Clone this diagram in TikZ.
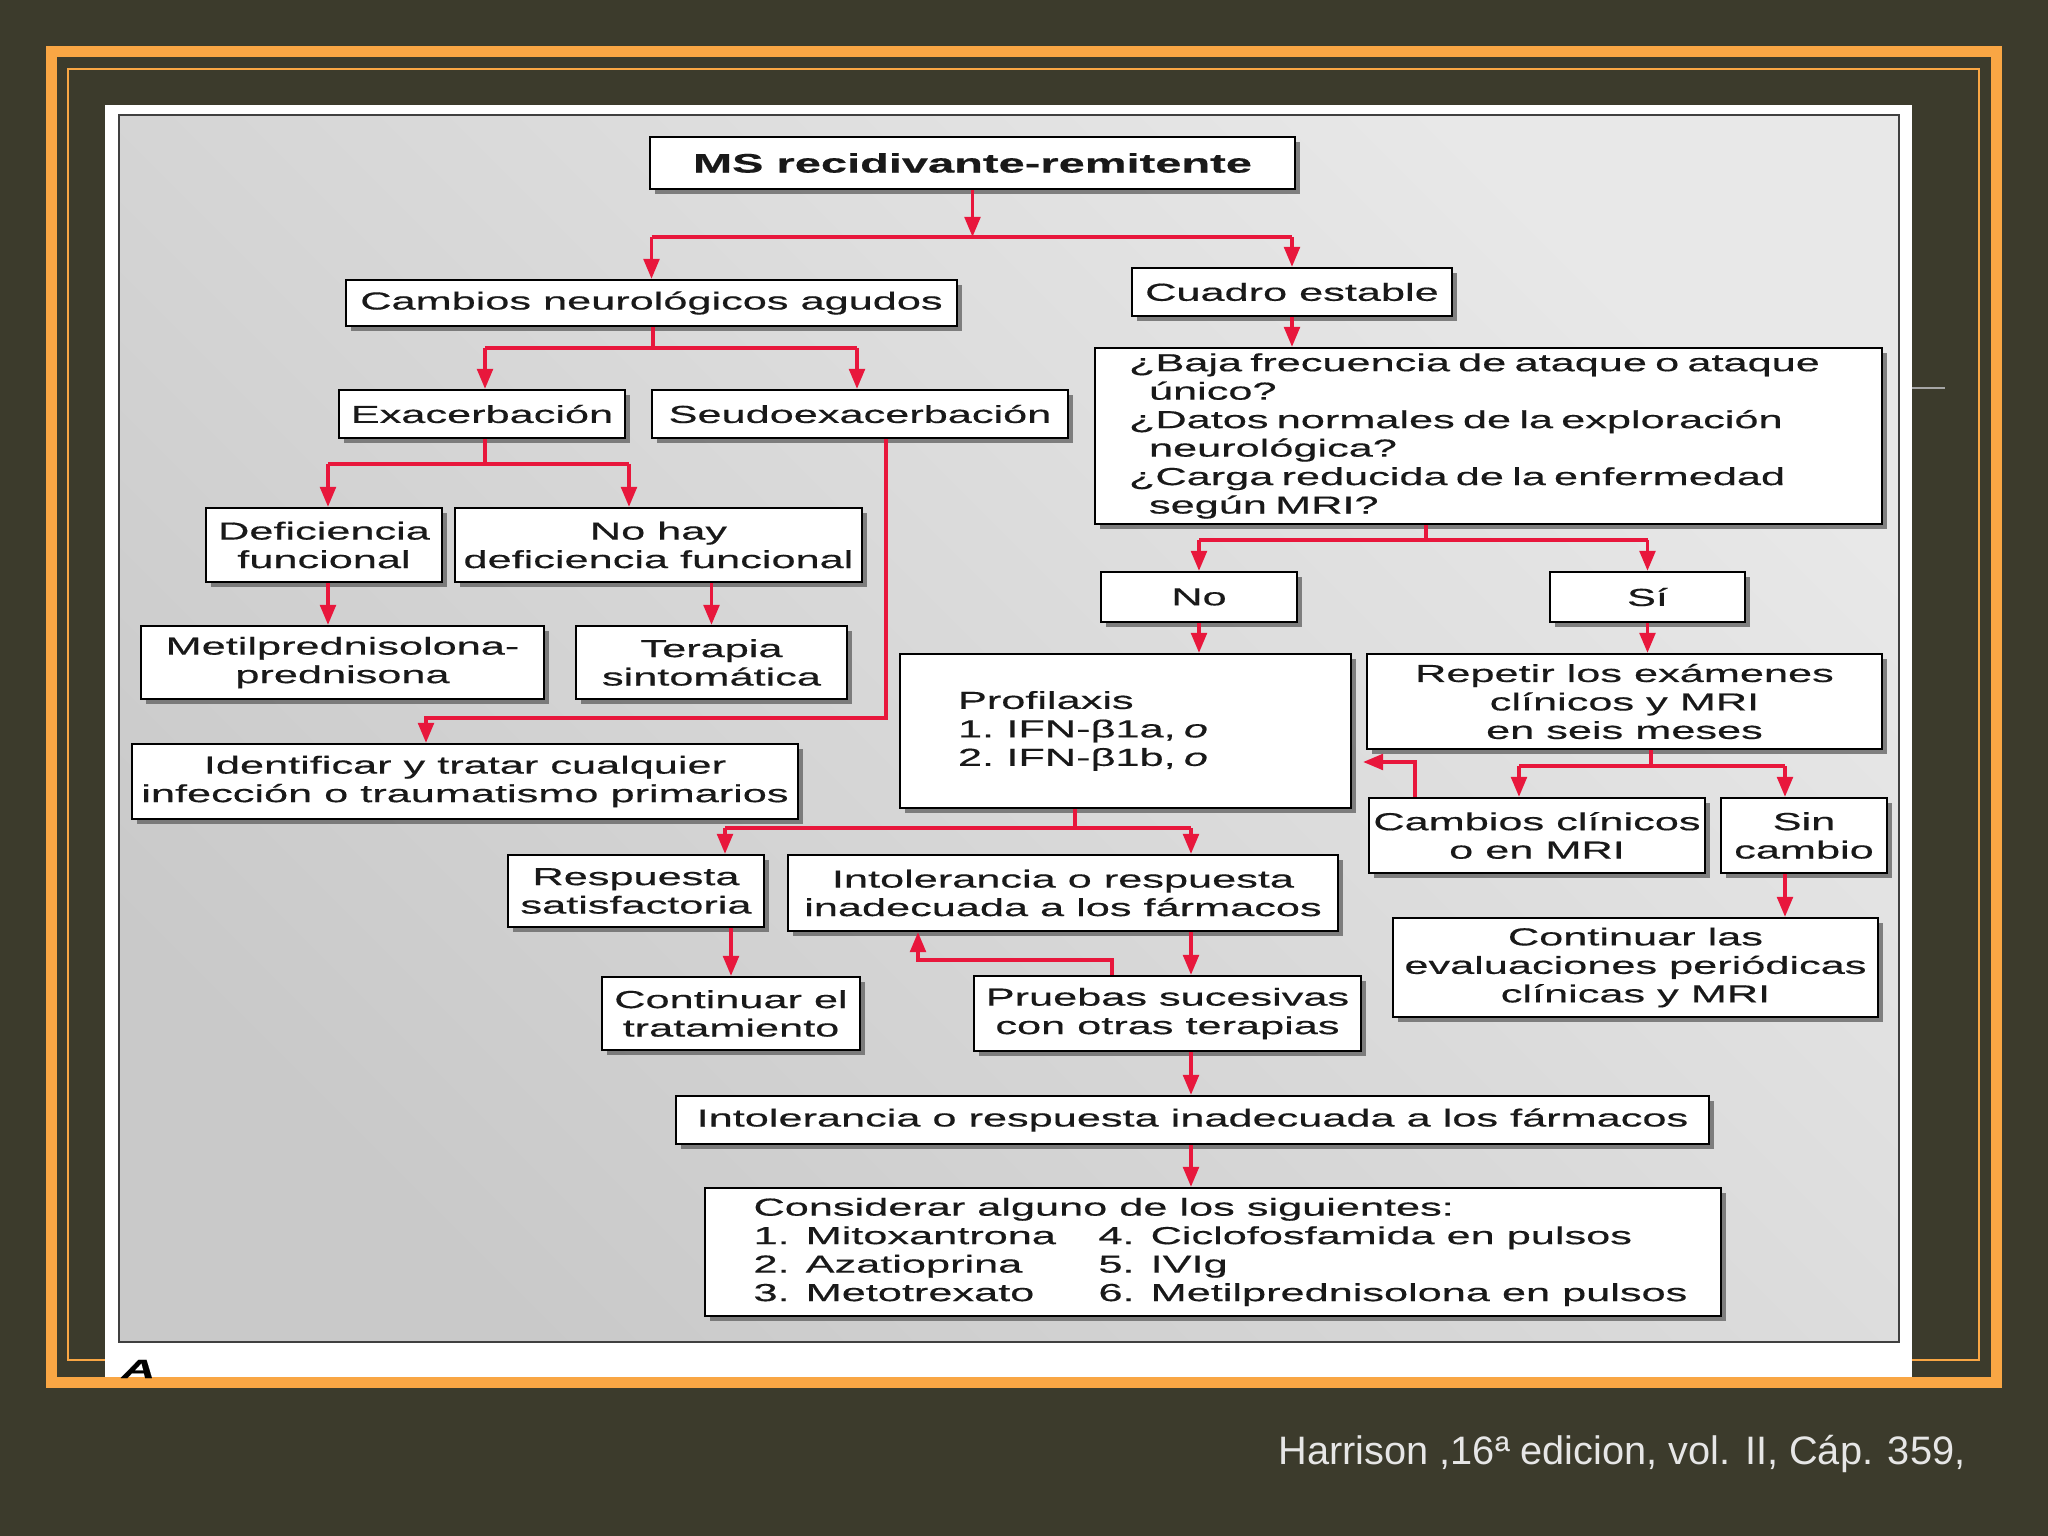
\documentclass[tikz,border=0pt]{standalone}
\usepackage{fontspec}
\usepackage{tikz}
\usetikzlibrary{arrows.meta,positioning,shadows}
\newfontfamily\dgfont[FakeStretch=1.76,FakeBold=0.45]{Liberation Sans}
\newfontfamily\slidefont{Liberation Sans}
\definecolor{slidebg}{HTML}{3C3B2C}
\definecolor{slideor}{HTML}{F9A644}
\definecolor{arrred}{HTML}{E8173C}
\definecolor{footgray}{HTML}{E6E6E6}
\tikzset{
  box/.style={draw=black,line width=0.6pt,fill=white,inner sep=0pt,align=center,
              font=\dgfont\fontsize{7}{8.1}\selectfont,text=black!90,
              drop shadow={shadow xshift=0.05cm,shadow yshift=-0.05cm,fill=black!60,opacity=0.8}},
  flow/.style={draw=arrred,line width=1.05pt},
  flowa/.style={flow,-{Triangle[length=2mm,width=1.55mm]}},
}

\begin{document}
\begin{tikzpicture}[x=1cm,y=1cm,
  sz/.style 2 args={minimum width=#1cm,minimum height=#2cm}]

  % ---------- slide ----------
  \fill[slidebg] (0,0) rectangle (20.48,-15.36);
  \useasboundingbox (0,0) rectangle (20.48,-15.36);
  \draw[slideor,line width=0.02cm] (0.675,-0.69) rectangle (19.79,-13.60);
  \fill[white] (1.045,-1.05) rectangle (19.12,-13.80);
  \draw[slideor,line width=0.105cm] (0.515,-0.515) rectangle (19.965,-13.825);
  \draw[gray!70,line width=0.02cm] (19.12,-3.88) -- (19.45,-3.88);
  \shade[top color=black!21,bottom color=black!9,shading angle=135,draw=black!75,line width=0.4pt]
    (1.19,-1.15) rectangle (18.99,-13.42);

  % ---------- top ----------
  \node[box,sz={6.45}{0.52},font=\dgfont\bfseries\fontsize{7.6}{9}\selectfont] (ms) at (9.725,-1.63) {MS recidivante-remitente};
  \node[box,sz={6.11}{0.46}] (cna) at (6.515,-3.03) {Cambios neurológicos agudos};
  \node[box,sz={3.20}{0.48}] (cuadro) at (12.92,-2.92) {Cuadro estable};

  % ---------- right branch ----------
  \node[box,sz={7.87}{1.76},align=left,inner xsep=0.34cm,text width=7.19cm] (baja) at (14.885,-4.36)
    {¿Baja frecuencia de ataque o ataque\\\hspace*{0.2cm}único?\\¿Datos normales de la exploración\\\hspace*{0.2cm}neurológica?\\¿Carga reducida de la enfermedad\\\hspace*{0.2cm}según MRI?};
  \node[box,sz={1.96}{0.50}] (no) at (11.99,-5.97) {No};
  \node[box,sz={1.95}{0.50}] (si) at (16.475,-5.97) {Sí};
  \node[box,sz={4.51}{1.54},align=left,inner xsep=0.58cm,text width=3.35cm] (prof) at (11.255,-7.31)
    {Profilaxis\\1. IFN-β1a, \textit{o}\\2. IFN-β1b, \textit{o}\\[12pt]};
  \node[box,sz={5.15}{0.95}] (repetir) at (16.245,-7.015) {Repetir los exámenes\\clínicos y MRI\\en seis meses};
  \node[box,sz={3.36}{0.75}] (camcli) at (15.37,-8.355) {Cambios clínicos\\o en MRI};
  \node[box,sz={1.66}{0.75}] (sincam) at (18.04,-8.355) {Sin\\cambio};
  \node[box,sz={4.85}{0.99}] (contev) at (16.355,-9.675) {Continuar las\\evaluaciones periódicas\\clínicas y MRI};

  % ---------- treatment column ----------
  \node[box,sz={2.56}{0.72}] (resp) at (6.36,-8.91) {Respuesta\\satisfactoria};
  \node[box,sz={5.50}{0.76}] (intA) at (10.63,-8.93) {Intolerancia o respuesta\\inadecuada a los fármacos};
  \node[box,sz={2.58}{0.73}] (conttr) at (7.31,-10.135) {Continuar el\\tratamiento};
  \node[box,sz={3.87}{0.75}] (pruebas) at (11.675,-10.135) {Pruebas sucesivas\\con otras terapias};
  \node[box,sz={10.33}{0.48}] (intB) at (11.925,-11.20) {Intolerancia o respuesta inadecuada a los fármacos};
  \node[box,sz={10.16}{1.28},align=left] (consid) at (12.13,-12.52)
    {\hspace*{0.15cm}Considerar alguno de los siguientes:\\
     \hspace*{0.15cm}\makebox[3.45cm][l]{1. Mitoxantrona}4. Ciclofosfamida en pulsos\\
     \hspace*{0.15cm}\makebox[3.45cm][l]{2. Azatioprina}5. IVIg\\
     \hspace*{0.15cm}\makebox[3.45cm][l]{3. Metotrexato}6. Metilprednisolona en pulsos};

  % ---------- left branch ----------
  \node[box,sz={2.86}{0.48}] (exac) at (4.82,-4.14) {Exacerbación};
  \node[box,sz={4.16}{0.48}] (seudo) at (8.60,-4.14) {Seudoexacerbación};
  \node[box,sz={2.36}{0.74}] (defic) at (3.24,-5.45) {Deficiencia\\funcional};
  \node[box,sz={4.07}{0.74}] (nohay) at (6.585,-5.45) {No hay\\deficiencia funcional};
  \node[box,sz={4.03}{0.73}] (metil) at (3.425,-6.625) {Metilprednisolona-\\prednisona};
  \node[box,sz={2.71}{0.73}] (terapia) at (7.115,-6.625) {Terapia\\sintomática};
  \node[box,sz={6.66}{0.75}] (ident) at (4.65,-7.815) {Identificar y tratar cualquier\\infección o traumatismo primarios};

  % ---------- junctions ----------
  \coordinate (j1) at (9.72,-2.37);
  \coordinate (j2) at (14.26,-5.40);
  \coordinate (j3) at (16.51,-7.66);
  \coordinate (j3a) at (15.19,-7.66);
  \coordinate (j3b) at (17.85,-7.66);
  \coordinate (k1) at (14.15,-7.62);
  \coordinate (j4) at (10.75,-8.28);
  \coordinate (j4a) at (7.25,-8.28);
  \coordinate (j4b) at (11.91,-8.28);
  \coordinate (k2) at (11.12,-9.60);
  \coordinate (k3) at (9.18,-9.60);
  \coordinate (j5) at (6.53,-3.48);
  \coordinate (j5a) at (4.85,-3.48);
  \coordinate (j5b) at (8.57,-3.48);
  \coordinate (j6a) at (3.28,-4.64);
  \coordinate (j6b) at (6.29,-4.64);
  \coordinate (k4) at (8.86,-7.18);
  \coordinate (k5) at (4.26,-7.18);

  % ---------- connectors ----------
  \draw[flowa] (ms.south) -- (ms.south |- j1);
  \draw[flow] (j1 -| cna) -- (j1 -| cuadro);
  \draw[flowa] (j1 -| cna) -- (cna);
  \draw[flowa] (j1 -| cuadro) -- (cuadro);
  \draw[flowa] (cuadro.south) -- (cuadro.south |- baja.north);

  \draw[flow] (j2 |- baja.south) -- (j2);
  \draw[flow] (j2 -| no) -- (j2 -| si);
  \draw[flowa] (j2 -| no) -- (no);
  \draw[flowa] (j2 -| si) -- (si);
  \draw[flowa] (no) -- (no |- prof.north);
  \draw[flowa] (si) -- (si |- repetir.north);

  \draw[flow] (j3 |- repetir.south) -- (j3);
  \draw[flow] (j3a) -- (j3b);
  \draw[flowa] (j3a) -- (j3a |- camcli.north);
  \draw[flowa] (j3b) -- (j3b |- sincam.north);
  \draw[flowa] (k1 |- camcli.north) -- (k1) -- ([xshift=0.11cm]prof.east |- k1);
  \draw[flowa] (j3b |- sincam.south) -- (j3b |- contev.north);

  \draw[flow] (j4 |- prof.south) -- (j4);
  \draw[flow] (j4a) -- (j4b);
  \draw[flowa] (j4a) -- (j4a |- resp.north);
  \draw[flowa] (j4b) -- (j4b |- intA.north);
  \draw[flowa] (conttr.north |- resp.south) -- (conttr.north);
  \draw[flowa] (j4b |- intA.south) -- (j4b |- pruebas.north);
  \draw[flowa] (k2 |- pruebas.north) -- (k2) -- (k3) -- (k3 |- intA.south);
  \draw[flowa] (j4b |- pruebas.south) -- (j4b |- intB.north);
  \draw[flowa] (j4b |- intB.south) -- (j4b |- consid.north);

  \draw[flow] (j5 |- cna.south) -- (j5);
  \draw[flow] (j5a) -- (j5b);
  \draw[flowa] (j5a) -- (j5a |- exac.north);
  \draw[flowa] (j5b) -- (j5b |- seudo.north);
  \draw[flow] (j5a |- exac.south) -- (j5a |- j6a);
  \draw[flow] (j6a) -- (j6b);
  \draw[flowa] (j6a) -- (j6a |- defic.north);
  \draw[flowa] (j6b) -- (j6b |- nohay.north);
  \draw[flowa] (j6a |- defic.south) -- (j6a |- metil.north);
  \draw[flowa] (terapia.north |- nohay.south) -- (terapia.north);
  \draw[flowa] (k4 |- seudo.south) -- (k4) -- (k5) -- (k5 |- ident.north);

  % ---------- captions ----------
  \node[font=\dgfont\bfseries\itshape\fontsize{7.5}{9}\selectfont,anchor=base west,inner sep=0pt] (figA) at (1.21,-13.78) {A};
  \node[font=\slidefont\fontsize{11.3}{13}\selectfont,text=footgray,anchor=base east,inner sep=0pt] (foot) at (19.66,-14.645)
    {Harrison ,16ª edicion, vol. II, Cáp. 359,};
\end{tikzpicture}
\end{document}
